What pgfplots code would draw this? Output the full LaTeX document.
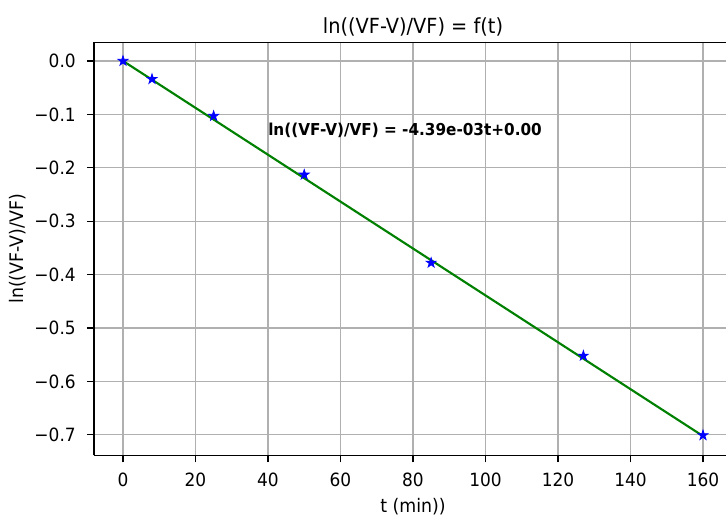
\documentclass[border=0pt]{standalone}
\usepackage{pgfplots}
\pgfplotsset{compat=1.18}
\usepackage{fontspec}
\setmainfont{DejaVu Sans}[FakeStretch=0.93]
\definecolor{mplgreen}{HTML}{008000}
\definecolor{mplgrid}{HTML}{B0B0B0}

% filled five-pointed star, like matplotlib's '*'
\pgfdeclareplotmark{fstar}{%
  \pgfpathmoveto{\pgfpointpolar{90}{\pgfplotmarksize}}%
  \pgfpathlineto{\pgfpointpolar{126}{0.382\pgfplotmarksize}}%
  \pgfpathlineto{\pgfpointpolar{162}{\pgfplotmarksize}}%
  \pgfpathlineto{\pgfpointpolar{198}{0.382\pgfplotmarksize}}%
  \pgfpathlineto{\pgfpointpolar{234}{\pgfplotmarksize}}%
  \pgfpathlineto{\pgfpointpolar{270}{0.382\pgfplotmarksize}}%
  \pgfpathlineto{\pgfpointpolar{306}{\pgfplotmarksize}}%
  \pgfpathlineto{\pgfpointpolar{342}{0.382\pgfplotmarksize}}%
  \pgfpathlineto{\pgfpointpolar{18}{\pgfplotmarksize}}%
  \pgfpathlineto{\pgfpointpolar{54}{0.382\pgfplotmarksize}}%
  \pgfpathclose
  \pgfusepathqfillstroke
}

\begin{document}
\begin{tikzpicture}
  \begin{axis}[
      scale only axis,
      width=478.5pt, height=309.8pt,
      xmin=-8, xmax=168,
      ymin=-0.7385, ymax=0.035,
      axis x line*=bottom, axis y line*=left,
      xtick={0,20,...,160},
      ytick={-0.7,-0.6,-0.5,-0.4,-0.3,-0.2,-0.1,0.0},
      yticklabels={−0.7,−0.6,−0.5,−0.4,−0.3,−0.2,−0.1,0.0},
      /pgf/number format/assume math mode=true,
      tick label style={font=\fontsize{13.7}{15}\selectfont},
      xticklabel style={anchor=base, yshift=-18pt},
      yticklabel style={anchor=east, inner sep=0pt, xshift=-8.25pt},
      tick align=outside,
      major tick length=5.25pt,
      tick style={line width=0.9pt, black},
      xmajorgrids=true, ymajorgrids=true,
      grid style={color=mplgrid, line width=0.9pt},
      axis line style={line width=0.9pt},
      title={ln((VF-V)/VF) = f(t)},
      title style={font=\fontsize{15.6}{17}\selectfont,
        at={(axis description cs:0.5,1)}, anchor=base, yshift=0.3pt},
      xlabel={t (min))},
      ylabel={ln((VF-V)/VF)},
      label style={font=\fontsize{14}{16}\selectfont},
      xlabel style={at={([yshift=-42.5pt]axis description cs:0.5,0)}, anchor=base},
      ylabel style={at={([xshift=-52.5pt]axis description cs:0,0.5)}, anchor=base},
  ]
  \addplot[only marks, color=blue, fill=blue, mark=fstar, mark size=4pt, line width=0.5pt]
      coordinates {
      (0,0.0) (8,-0.034) (25,-0.103) (50,-0.213) (85,-0.378) (127,-0.552) (160,-0.701)
      };
  \addplot[color=mplgreen, line width=1.6pt, no marks]
      coordinates {(0,0.0) (160,-0.7024)};
  \node[anchor=base west, font=\bfseries\fontsize{12.3}{14}\selectfont, inner sep=0pt]
      at (axis cs:40,-0.14) {ln((VF-V)/VF) = -4.39e-03t+0.00};
  % top spine; the right one lies outside the reference's frame
  \draw[line width=0.9pt, black] (rel axis cs:0,1) -- (rel axis cs:1,1);
  \end{axis}
  \pgfresetboundingbox
  \path (-70.5pt,-44.7pt) rectangle (474pt,341.5pt);
\end{tikzpicture}
\end{document}
